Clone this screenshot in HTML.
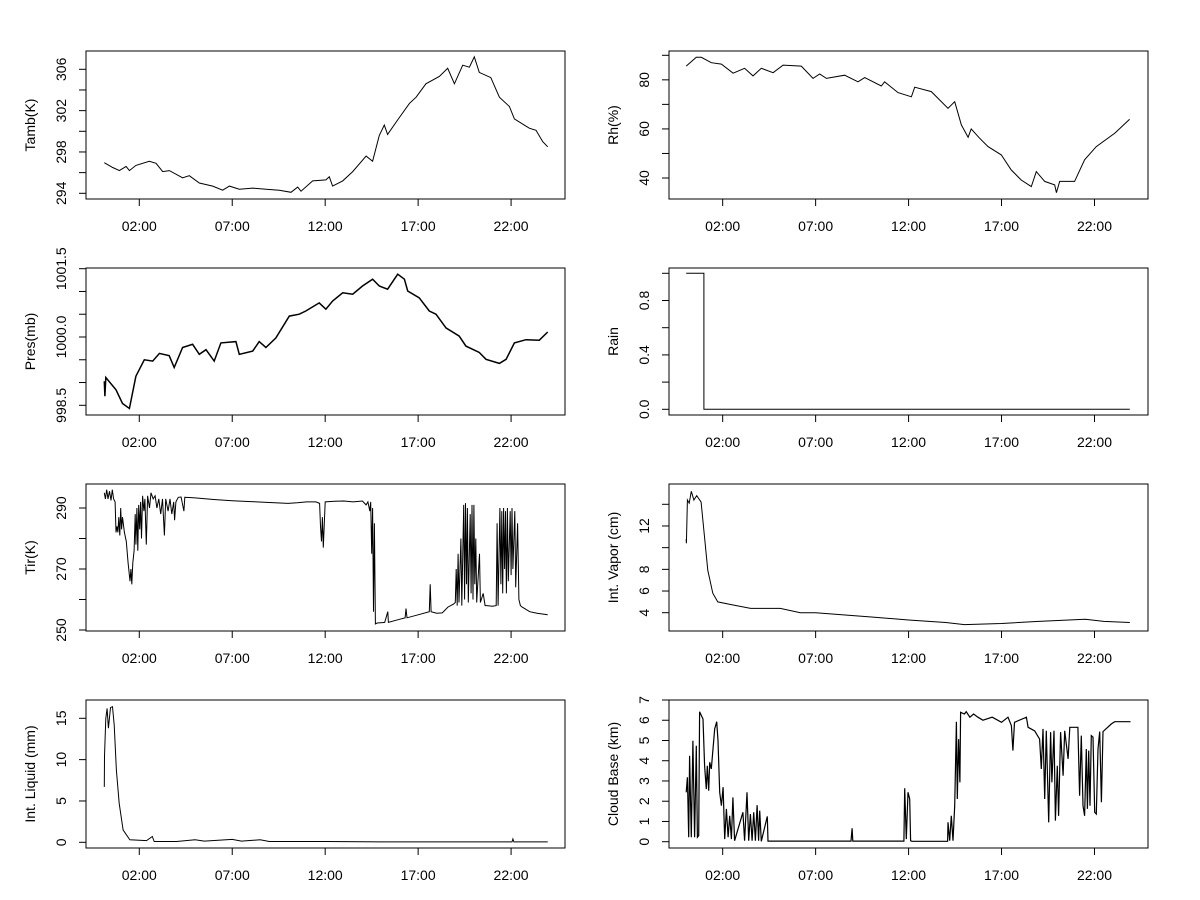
<!DOCTYPE html>
<html><head><meta charset="utf-8"><style>
html,body{margin:0;padding:0;background:#fff;}
svg{display:block;font-family:"Liberation Sans",Arial,sans-serif;}
</style></head><body>
<svg id="chart" width="1200" height="900" viewBox="0 0 1200 900" xmlns="http://www.w3.org/2000/svg">
<rect x="0" y="0" width="1200" height="900" fill="#fff"/>
</svg>
<script>
// ---- data (hour of day, value) ----
const tambT=[0.12,0.57,0.93,1.29,1.47,1.82,2.54,2.9,3.26,3.62,4.33,4.69,5.23,5.95,6.49,6.85,7.38,8.1,8.82,9.53,10.16,10.52,10.7,11.33,12.04,12.22,12.4,12.94,13.48,14.2,14.55,14.91,15.18,15.36,15.9,16.53,16.89,17.42,18.14,18.59,18.95,19.4,19.76,20.02,20.29,20.91,21.37,21.91,22.18,22.98,23.34,23.7,23.97];
const tambV=[296.96,296.5,296.2,296.6,296.2,296.7,297.1,296.9,296.1,296.2,295.5,295.7,295.0,294.7,294.3,294.7,294.4,294.5,294.4,294.3,294.1,294.6,294.2,295.2,295.3,295.6,294.7,295.2,296.1,297.6,297.1,299.6,300.6,299.7,301.1,302.7,303.3,304.6,305.3,306.1,304.6,306.4,306.2,307.2,305.7,305.2,303.3,302.4,301.2,300.3,300.1,299.0,298.5];
const presT=[0.12,0.15,0.2,0.75,1.1,1.47,1.82,2.27,2.72,3.08,3.61,3.88,4.33,4.87,5.23,5.59,6.03,6.39,7.2,7.38,8.1,8.45,8.81,9.35,10.07,10.6,10.96,11.68,12.04,12.4,12.94,13.48,14.01,14.55,14.91,15.36,15.9,16.26,16.44,17.06,17.6,17.96,18.5,19.21,19.57,20.29,20.65,21.37,21.73,22.18,22.8,23.52,23.97];
const presV=[999.03,998.7,999.11,998.84,998.54,998.43,999.14,999.5,999.47,999.64,999.59,999.33,999.77,999.84,999.62,999.72,999.47,999.87,999.9,999.62,999.69,999.9,999.77,999.98,1000.46,1000.5,1000.57,1000.75,1000.61,1000.79,1000.97,1000.94,1001.12,1001.27,1001.12,1001.05,1001.38,1001.27,1001.01,1000.86,1000.57,1000.5,1000.2,1000.02,999.8,999.66,999.51,999.42,999.51,999.87,999.94,999.93,1000.11];
const tirT=[0.12,0.18,0.25,0.32,0.4,0.48,0.55,0.62,0.7,0.75,0.8,0.85,0.9,0.95,1.0,1.05,1.1,1.2,1.3,1.4,1.5,1.55,1.6,1.65,1.72,1.78,1.82,1.87,1.92,1.97,2.02,2.07,2.12,2.18,2.25,2.3,2.38,2.45,2.55,2.63,2.75,2.85,2.95,3.05,3.15,3.25,3.35,3.42,3.55,3.65,3.75,3.85,3.9,3.97,4.1,4.25,4.4,4.45,5,6,7,8,9,10,10.5,11,11.5,11.7,11.75,11.8,11.85,11.9,11.95,12.0,12.5,13,13.5,14,14.2,14.3,14.4,14.45,14.5,14.55,14.6,14.65,14.7,14.8,15.2,15.37,15.4,16,16.3,16.35,16.4,17,17.6,17.65,17.7,18,18.3,18.6,18.9,19.0,19.05,19.1,19.15,19.2,19.3,19.35,19.45,19.5,19.55,19.6,19.65,19.7,19.8,19.85,19.9,19.95,20.0,20.05,20.1,20.15,20.3,20.35,20.5,20.6,20.7,21.0,21.2,21.25,21.3,21.4,21.45,21.5,21.55,21.6,21.65,21.7,21.75,21.8,21.85,21.95,22.0,22.05,22.1,22.2,22.25,22.35,22.42,22.5,22.6,23.0,23.4,23.97];
const tirV=[295,293,296,293,295.5,292.5,296,293,292,282,284,282,287,281,290,283,287,282,279,272,266,270,265,272,276,288,278,290,276,291,283,292,280,294,289,293,278,294,290,295,293,294,290,293,288,293,281,293,289,293,288,292,286,292,293.5,293.6,289,293.5,293.3,292.8,292.4,292.1,291.8,291.5,291.7,292,292,291.5,284,279,287,277,285,292,292.2,292.3,292,292.3,291,292,289,292,275,290,256,285,252,252.3,252.5,256,252.5,253.5,254,257,254,255,256,265,256,255.5,255.6,257.5,258.5,259,270,258,275,259,280,258,291,260,291.6,265,290,259,288,262,291,260,291,265,280,259,275,259,262,258,258,257.8,258,285,258,290,265,289,262,290,270,289,262,290,266,289,268,290,270,289,264,285,260,258,257.5,256,255.5,255];
const liqT=[0.12,0.13,0.2,0.27,0.34,0.45,0.56,0.65,0.77,0.92,1.13,1.49,2.39,2.7,2.8,4,5,5.5,7,7.5,8.5,9,12,15,18,21,22.05,22.1,22.15,23.97];
const liqV=[6.7,10.4,15,16.2,13.8,16.3,16.4,14.2,8.7,4.7,1.5,0.3,0.2,0.7,0.1,0.1,0.3,0.15,0.35,0.15,0.3,0.1,0.1,0.05,0.05,0.05,0.05,0.4,0.05,0.05];
const rhT=[0.04,0.58,0.85,1.39,1.93,2.56,3.18,3.63,4.08,4.71,5.25,6.23,6.86,7.22,7.58,8.56,9.28,9.64,10.53,10.71,11.43,12.15,12.33,13.22,14.12,14.48,14.84,15.2,15.37,15.82,16.27,16.99,17.52,18.06,18.6,18.87,19.32,19.86,19.95,20.13,20.93,21.47,22.1,23.09,23.89];
const rhV=[85.6,89.2,89.2,87.0,86.4,82.7,84.7,81.6,84.7,82.9,86.0,85.6,80.6,82.4,80.6,81.9,79.2,80.9,77.5,79.2,74.8,73.1,77.0,75.2,68.4,71.1,61.6,56.6,60.0,56.2,52.8,49.4,43.3,39.2,36.5,42.6,38.6,37.2,34.0,38.6,38.6,47.4,52.8,58.2,63.9];
const rainT=[0.04,0.99,0.99,23.9];
const rainV=[1,1,0,0];
const vapT=[0.03,0.05,0.1,0.2,0.31,0.45,0.6,0.84,1.02,1.2,1.47,1.74,2.6,3.5,5.1,6.18,7,10,12,14,15,17,19,21.5,22.5,23.9];
const vapV=[10.78,10.4,14.4,14.1,15.2,14.4,14.8,14.2,11.0,7.9,5.8,5.0,4.7,4.4,4.4,4.0,4.0,3.6,3.33,3.1,2.9,3.0,3.2,3.4,3.2,3.1];
const cbT=[0.04,0.1,0.17,0.22,0.31,0.40,0.49,0.58,0.64,0.71,0.76,0.94,1.03,1.12,1.17,1.25,1.3,1.39,1.57,1.68,1.75,1.84,1.93,2.02,2.11,2.2,2.29,2.38,2.47,2.55,2.64,3.09,3.18,3.31,3.4,3.49,3.58,3.67,3.76,3.85,3.93,3.99,4.08,4.4,4.44,8.9,8.96,9.0,11.75,11.79,11.88,11.97,12.06,12.11,12.18,14.1,14.12,14.21,14.3,14.39,14.48,14.57,14.62,14.69,14.76,14.8,15.0,15.1,15.3,15.5,15.73,16.0,16.5,17.0,17.35,17.53,17.61,17.7,18.34,18.43,18.78,19.05,19.14,19.23,19.32,19.41,19.54,19.64,19.71,19.82,19.9,20.0,20.07,20.18,20.31,20.4,20.58,20.67,21.11,21.2,21.29,21.38,21.47,21.56,21.62,21.69,21.76,21.83,21.92,22.01,22.1,22.19,22.28,22.37,22.46,22.91,23.09,23.5,23.94];
const cbV=[2.44,3.18,0.22,4.25,0.22,4.99,0.22,4.74,0.22,0.3,6.42,6.06,3.75,2.6,3.75,2.52,3.92,3.59,5.57,5.93,4.99,2.44,1.78,2.69,0.13,1.62,0.22,1.28,0.13,2.19,0.05,1.45,0.05,2.44,0.05,1.37,0.05,1.45,0.05,1.81,0.05,1.53,0.02,1.25,0.03,0.03,0.66,0.03,0.03,2.64,0.13,2.44,2.11,0.05,0.02,0.02,0.96,0.05,1.28,0.05,1.78,5.93,2.11,5.07,2.93,6.39,6.31,6.42,6.15,6.31,6.15,6.0,6.15,5.9,6.15,5.73,4.5,5.9,6.15,5.65,5.48,5.07,3.59,5.57,2.11,5.48,0.96,5.41,2.93,5.48,1.04,3.75,1.28,5.41,3.26,5.48,4.09,5.65,5.65,2.27,5.24,1.78,1.28,4.58,1.62,4.5,1.78,5.24,5.16,1.45,1.37,4.58,5.44,1.95,5.44,5.82,5.93,5.93,5.93];
const xTickHours=[2,7,12,17,22];
const xTickLabels=["02:00","07:00","12:00","17:00","22:00"];

const NS="http://www.w3.org/2000/svg";
const svg=document.getElementById('chart');
function mk(tag,attrs,parent){const e=document.createElementNS(NS,tag);for(const k in attrs)e.setAttribute(k,attrs[k]);(parent||svg).appendChild(e);return e;}

const panels=[
 {name:'tamb',title:'Tamb(K)',col:0,row:0,v0:306,p0:69.3,v1:294,p1:193.3,ticks:[294,296,298,300,302,304,306],labs:[294,298,302,306],fmt:v=>String(v),t:tambT,v:tambV,w:1},
 {name:'pres',title:'Pres(mb)',col:0,row:1,v0:1001.5,p0:268.7,v1:998.5,p1:405.3,ticks:[998.5,999,999.5,1000,1000.5,1001,1001.5],labs:[998.5,1000,1001.5],fmt:v=>v.toFixed(1),t:presT,v:presV,w:1.5},
 {name:'tir',title:'Tir(K)',col:0,row:2,v0:290,p0:508,v1:250,p1:630,ticks:[250,260,270,280,290],labs:[250,270,290],fmt:v=>String(v),t:tirT,v:tirV,w:1},
 {name:'liquid',title:'Int. Liquid (mm)',col:0,row:3,v0:15,p0:718.3,v1:0,p1:842.3,ticks:[0,5,10,15],labs:[0,5,10,15],fmt:v=>String(v),t:liqT,v:liqV,w:1},
 {name:'rh',title:'Rh(%)',col:1,row:0,v0:90,p0:55.3,v1:40,p1:178,ticks:[40,50,60,70,80,90],labs:[40,60,80],fmt:v=>String(v),t:rhT,v:rhV,w:1},
 {name:'rain',title:'Rain',col:1,row:1,v0:1,p0:273.3,v1:0,p1:409.3,ticks:[0,0.2,0.4,0.6,0.8,1.0],labs:[0,0.4,0.8],fmt:v=>v.toFixed(1),t:rainT,v:rainV,w:1},
 {name:'vapor',title:'Int. Vapor (cm)',col:1,row:2,v0:14,p0:504.3,v1:4,p1:612.7,ticks:[4,6,8,10,12,14],labs:[4,6,8,12],fmt:v=>String(v),t:vapT,v:vapV,w:1},
 {name:'cloud-base',title:'Cloud Base (km)',col:1,row:3,v0:7,p0:700,v1:0,p1:841.7,ticks:[0,1,2,3,4,5,6,7],labs:[0,1,2,3,4,5,6,7],fmt:v=>String(v),t:cbT,v:cbV,w:1.2}
];
const rows=[[51,199],[268,415],[484,631],[700,848]];
const cols=[{x0:86,x1:565,off:102.1},{x0:669,x1:1148,off:685.5}];
const pxPerH=18.59;

panels.forEach(p=>{
  const c=cols[p.col],r=rows[p.row];
  const xs=h=>c.off+pxPerH*h;
  const ys=v=>p.p0+(v-p.v0)*(p.p1-p.p0)/(p.v1-p.v0);
  const g=mk('g',{});
  
  
  const box=mk('rect',{x:c.x0,y:r[0],width:c.x1-c.x0,height:r[1]-r[0],fill:'none',stroke:'#000','stroke-width':1},g);
  
  
  let d='';
  p.t.forEach((h,i)=>{d+=(i?'L':'M')+xs(h).toFixed(1)+','+ys(p.v[i]).toFixed(1);});
  const line=mk('path',{d:d,fill:'none',stroke:'#000','stroke-width':p.w,'stroke-linejoin':'miter'},g);
  
  
  const ya=mk('g',{},g);
  
  
  const ymin=ys(p.ticks[0]),ymax=ys(p.ticks[p.ticks.length-1]);
  mk('line',{x1:c.x0,x2:c.x0,y1:ymin,y2:ymax,stroke:'#000'},ya);
  p.ticks.forEach(v=>{const y=ys(v);mk('line',{x1:c.x0-7,x2:c.x0,y1:y,y2:y,stroke:'#000'},ya);});
  p.labs.forEach(v=>{
    const y=ys(v),x=c.x0-20;
    const t=mk('text',{x:x,y:y,transform:`rotate(-90 ${x} ${y})`,'text-anchor':'middle','font-size':14,fill:'#000'},ya);
    t.textContent=p.fmt(v);
    
    
  });
  const tx=c.x0-51,ty=(r[0]+r[1])/2;
  const tt=mk('text',{x:tx,y:ty,transform:`rotate(-90 ${tx} ${ty})`,'text-anchor':'middle','font-size':14,fill:'#000'},g);
  tt.textContent=p.title;
  
  
  const xa=mk('g',{},g);
  
  
  mk('line',{x1:xs(xTickHours[0]),x2:xs(xTickHours[xTickHours.length-1]),y1:r[1],y2:r[1],stroke:'#000'},xa);
  xTickHours.forEach((h,i)=>{
    const x=xs(h);
    mk('line',{x1:x,x2:x,y1:r[1],y2:r[1]+7,stroke:'#000'},xa);
    const t=mk('text',{x:x,y:r[1]+32,'text-anchor':'middle','font-size':14,fill:'#000'},xa);
    t.textContent=xTickLabels[i];
    
    
  });
});
</script>
</body></html>
